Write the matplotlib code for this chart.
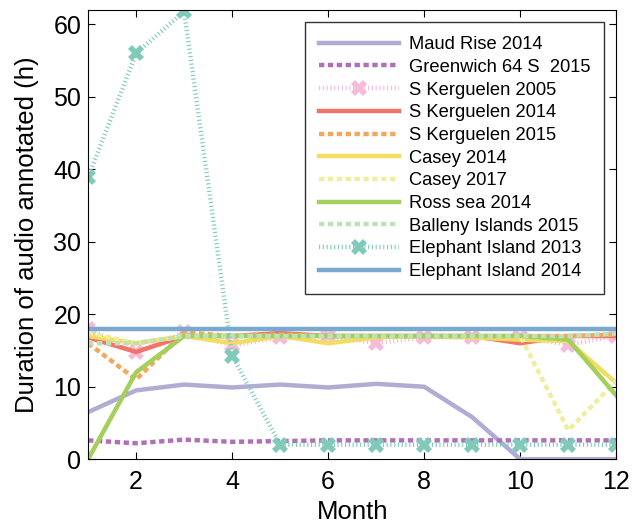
import numpy as np
import matplotlib.pyplot as plt

plt.rcParams['font.family'] = ['Liberation Sans', 'DejaVu Sans']

months = list(range(1, 13))

maud_2014 = [6.5, 9.5, 10.3, 9.9, 10.3, 9.9, 10.4, 10.0, 5.8, 0, 0, 0]
greenwich_2015 = [2.6, 2.2, 2.7, 2.4, 2.5, 2.6, 2.6, 2.6, 2.6, 2.6, 2.6, 2.6]
kerg_2005 = [18.0, 14.8, 17.5, 15.7, 16.8, 17.0, 16.0, 16.8, 16.8, 16.8, 15.8, 17.0]
kerg_2014 = [16.8, 14.8, 17.0, 17.0, 17.4, 17.0, 17.0, 17.0, 17.0, 16.0, 17.0, 17.0]
kerg_2015 = [16.0, 11.0, 17.5, 17.0, 17.2, 17.0, 17.0, 17.0, 17.0, 17.0, 17.0, 17.2]
casey_2014 = [17.0, 16.0, 17.0, 16.0, 17.0, 16.0, 16.8, 17.0, 16.8, 16.5, 16.3, 10.5]
casey_2017 = [17.5, 16.0, 17.0, 17.0, 17.0, 17.0, 17.0, 17.0, 17.0, 17.0, 4.0, 10.8]
ross_2014 = [0.0, 12.0, 17.0, 17.0, 17.0, 17.0, 17.0, 17.0, 17.0, 17.0, 16.5, 8.8]
balleny_2015 = [16.0, 16.0, 17.0, 17.0, 17.0, 17.0, 17.0, 17.0, 17.0, 17.0, 17.0, 17.3]
eleph_2013 = [38.9, 56.0, 61.8, 14.3, 2.0, 2.0, 2.0, 2.0, 2.0, 2.0, 2.0, 2.0]
eleph_2014 = [18.0] * 12

fig, ax = plt.subplots(figsize=(6.34, 5.26), dpi=100)
fig.subplots_adjust(left=0.139, right=0.972, bottom=0.127, top=0.981)

lw = 3.2
dash = (0, (1.2, 0.8))
dots = (0, (0.25, 0.6))
ax.plot(months, maud_2014, color='#b1acd3', lw=lw, label='Maud Rise 2014')
ax.plot(months, greenwich_2015, color='#b070b8', lw=lw, ls=dash, label='Greenwich 64 S  2015')
ax.plot(months, kerg_2005, color='#f4bcd8', lw=lw, ls=dots, marker='X', ms=11, mew=0, label='S Kerguelen 2005')
ax.plot(months, kerg_2014, color='#f07468', lw=lw, label='S Kerguelen 2014')
ax.plot(months, kerg_2015, color='#f2a85a', lw=lw, ls=dash, label='S Kerguelen 2015')
ax.plot(months, casey_2014, color='#f2dd62', lw=lw, label='Casey 2014')
ax.plot(months, casey_2017, color='#eeef9e', lw=lw, ls=dash, label='Casey 2017')
ax.plot(months, ross_2014, color='#a2d05a', lw=lw, label='Ross sea 2014')
ax.plot(months, balleny_2015, color='#bfe0bb', lw=lw, ls=dash, label='Balleny Islands 2015')
ax.plot(months, eleph_2013, color='#80cabb', lw=lw, ls=dots, marker='X', ms=11, mew=0, label='Elephant Island 2013')
ax.plot(months, eleph_2014, color='#7aa9d0', lw=lw, label='Elephant Island 2014')

ax.set_xlim(1, 12)
ax.set_ylim(0, 62)
ax.set_xticks([2, 4, 6, 8, 10, 12])
ax.set_yticks([0, 10, 20, 30, 40, 50, 60])
ax.tick_params(direction='in', top=True, right=True, labelsize=18, length=5)
ax.tick_params(axis='x', pad=8)
ax.tick_params(axis='y', pad=5)
ax.set_xlabel('Month', fontsize=18.5)
ax.set_ylabel('Duration of audio annotated (h)', fontsize=18.5)
ax.xaxis.set_label_coords(0.5, -0.091)
ax.yaxis.set_label_coords(-0.093, 0.5)

leg = ax.legend(loc='upper right', fontsize=13.2, frameon=True, fancybox=False,
                edgecolor='black', handlelength=4.37, handletextpad=0.5,
                borderaxespad=0.68, labelspacing=0.31, borderpad=0.75)
leg.get_frame().set_linewidth(1.0)

fig.savefig('out.png', dpi=100)
